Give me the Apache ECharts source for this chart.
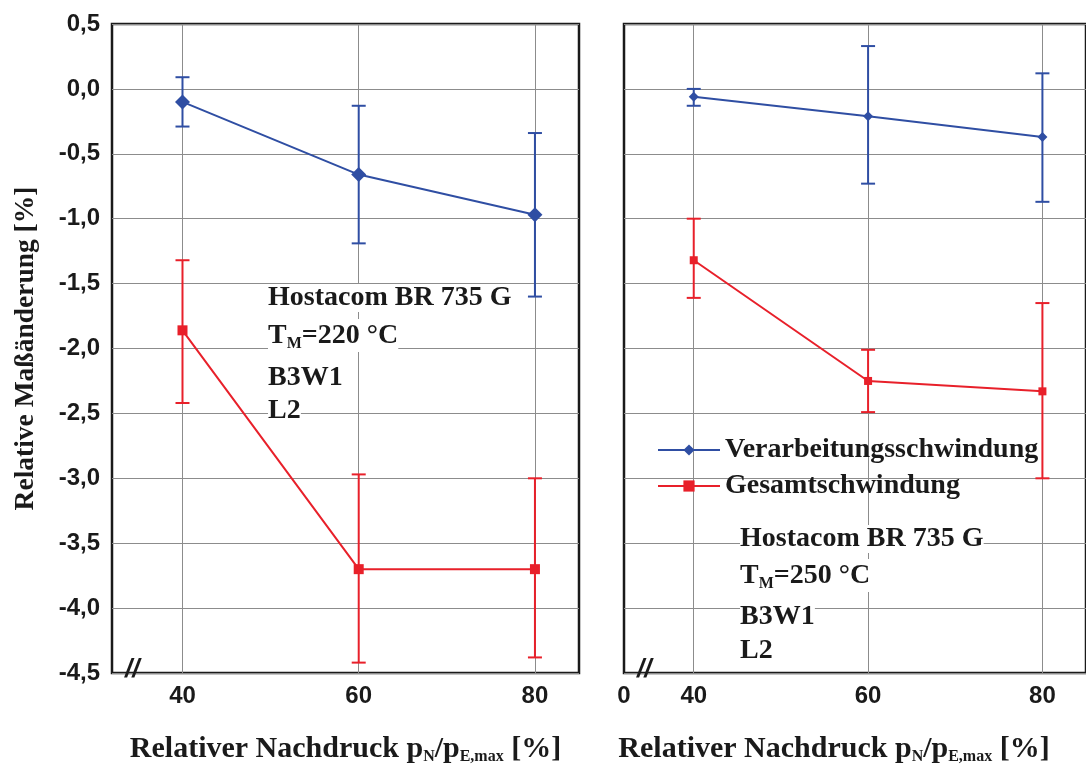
<!DOCTYPE html>
<html>
<head>
<meta charset="utf-8">
<script src="https://cdn.jsdelivr.net/npm/echarts@6/dist/echarts.min.js"></script>
<style>
  html, body { margin: 0; padding: 0; background: #fff; }
  #chart { width: 1086px; height: 771px; }
</style>
</head>
<body>
<div id="chart"></div>
<script>
// Relativer Nachdruck [%]
const xValues = [40, 60, 80];
const xTickLabels = ['40', '60', '80'];

// left panel, T_M = 220 °C
const procLeft = [-0.10, -0.66, -0.97];
const procLeftHigh = [0.09, -0.13, -0.34];
const procLeftLow = [-0.29, -1.19, -1.60];
const totalLeft = [-1.86, -3.70, -3.70];
const totalLeftHigh = [-1.32, -2.97, -3.00];
const totalLeftLow = [-2.42, -4.42, -4.38];

// right panel, T_M = 250 °C
const procRight = [-0.06, -0.21, -0.37];
const procRightHigh = [0.00, 0.33, 0.12];
const procRightLow = [-0.13, -0.73, -0.87];
const totalRight = [-1.32, -2.25, -2.33];
const totalRightHigh = [-1.00, -2.01, -1.65];
const totalRightLow = [-1.61, -2.49, -3.00];

const BLUE = '#2f4ea3';
const RED = '#e8202a';
const GRID_GRAY = '#8c8c8c';
const SERIF = '"Liberation Serif", "DejaVu Serif", serif';
const SANS = '"Liberation Sans", Arial, sans-serif';

const chart = echarts.init(document.getElementById('chart'));

function pairs(ys) {
  return xValues.map((x, i) => [x, ys[i]]);
}

function errorBars(name, idx, highs, lows, color) {
  return {
    name: name,
    type: 'custom',
    xAxisIndex: idx,
    yAxisIndex: idx,
    z: 3,
    silent: true,
    data: xValues.map((x, i) => [x, lows[i], highs[i]]),
    renderItem: function (params, api) {
      const lo = api.coord([api.value(0), api.value(1)]);
      const hi = api.coord([api.value(0), api.value(2)]);
      const w = 7;
      const st = { stroke: color, lineWidth: 2 };
      return {
        type: 'group',
        children: [
          { type: 'line', shape: { x1: hi[0], y1: hi[1], x2: lo[0], y2: lo[1] }, style: st },
          { type: 'line', shape: { x1: hi[0] - w, y1: hi[1], x2: hi[0] + w, y2: hi[1] }, style: st },
          { type: 'line', shape: { x1: lo[0] - w, y1: lo[1], x2: lo[0] + w, y2: lo[1] }, style: st }
        ]
      };
    }
  };
}

// vertical grid lines only at 40/60/80
function vGrid(idx) {
  return {
    name: 'grid' + idx,
    type: 'line',
    xAxisIndex: idx,
    yAxisIndex: idx,
    z: 1,
    silent: true,
    data: [],
    markLine: {
      z: 1,
      silent: true,
      symbol: 'none',
      animation: false,
      label: { show: false },
      emphasis: { disabled: true },
      lineStyle: { color: GRID_GRAY, width: 1, type: 'solid' },
      data: xValues.map(v => ({ xAxis: v }))
    }
  };
}

function lineSeries(name, idx, ys, color, symbol, size) {
  return {
    name: name,
    type: 'line',
    xAxisIndex: idx,
    yAxisIndex: idx,
    z: 4,
    data: pairs(ys),
    symbol: symbol,
    symbolSize: size,
    lineStyle: { color: color, width: 2 },
    itemStyle: { color: color },
    emphasis: { disabled: true }
  };
}

function xAxis(idx, showZero, shift) {
  return {
    type: 'value',
    gridIndex: idx,
    min: 32,
    max: 85,
    interval: 4,
    axisLine: { show: false },
    axisTick: { show: false },
    splitLine: { show: false },
    axisLabel: {
      showMinLabel: true,
      showMaxLabel: false,
      margin: 11,
      color: '#1a1a1a',
      fontFamily: SANS,
      fontWeight: 'bold',
      fontSize: 24,
      formatter: function (v) {
        const i = xValues.indexOf(v);
        if (i >= 0) return xTickLabels[i];
        if (showZero && v === 32) return '0';
        return '';
      }
    },
    name: '{n|Relativer Nachdruck p}{s|N}{n|/p}{s|E,max}{n| [%]}',
    nameLocation: 'middle',
    nameGap: 60,
    nameTextStyle: {
      padding: [0, shift, 0, 0],
      rich: {
        n: { fontFamily: SERIF, fontWeight: 'bold', fontSize: 30, color: '#1a1a1a' },
        s: { fontFamily: SERIF, fontWeight: 'bold', fontSize: 16, color: '#1a1a1a', padding: [16, 0, 0, 0] }
      }
    }
  };
}

function yAxis(idx, showLabels) {
  return {
    type: 'value',
    gridIndex: idx,
    min: -4.5,
    max: 0.5,
    interval: 0.5,
    axisLine: { show: false },
    axisTick: { show: false },
    splitLine: { show: true, lineStyle: { color: GRID_GRAY, width: 1 } },
    axisLabel: {
      show: showLabels,
      margin: 12,
      color: '#1a1a1a',
      fontFamily: SANS,
      fontWeight: 'bold',
      fontSize: 24,
      formatter: v => v.toFixed(1).replace('.', ',').replace('-0,0', '0,0')
    },
    name: showLabels ? 'Relative Maßänderung [%]' : '',
    nameLocation: 'middle',
    nameGap: 72,
    nameTextStyle: { fontFamily: SERIF, fontWeight: 'bold', fontSize: 27.5, color: '#1a1a1a' }
  };
}

function annotation(x, ys, temp) {
  const font = 'bold 28px ' + SERIF;
  const rich = {
    n: { font: font, fill: '#1a1a1a', backgroundColor: '#fff' },
    s: { font: 'bold 16px ' + SERIF, fill: '#1a1a1a', padding: [17, 0, 0, 0], backgroundColor: '#fff' }
  };
  const lines = ['{n|Hostacom BR 735 G}', '{n|T}{s|M}{n|=' + temp + ' °C}', '{n|B3W1}', '{n|L2}'];
  return lines.map((t, i) => ({
    type: 'text',
    left: x,
    top: ys[i],
    z: 10,
    style: { text: t, rich: rich, font: font, fill: '#1a1a1a', backgroundColor: '#fff' }
  }));
}

function axisBreak(x) {
  return {
    type: 'text',
    left: x,
    top: 657,
    z: 10,
    style: { text: '//', font: 'italic bold 26px ' + SANS, fill: '#1a1a1a' }
  };
}

const option = {
  backgroundColor: '#fff',
  animation: false,
  grid: [
    { left: 112, top: 24, width: 467, height: 649, show: true, borderColor: '#1a1a1a', borderWidth: 2.5, backgroundColor: 'transparent' },
    { left: 624, top: 24, width: 467, height: 649, show: true, borderColor: '#1a1a1a', borderWidth: 2.5, backgroundColor: 'transparent' }
  ],
  xAxis: [xAxis(0, false, 0), xAxis(1, true, 42)],
  yAxis: [yAxis(0, true), yAxis(1, false)],
  legend: {
    data: ['Verarbeitungsschwindung', 'Gesamtschwindung'],
    orient: 'vertical',
    left: 652,
    top: 431,
    itemWidth: 62,
    itemHeight: 14,
    itemGap: 8,
    selectedMode: false,
    textStyle: { fontFamily: SERIF, fontWeight: 'bold', fontSize: 28, color: '#1a1a1a' }
  },
  series: [
    vGrid(0),
    vGrid(1),
    errorBars('errProcLeft', 0, procLeftHigh, procLeftLow, BLUE),
    errorBars('errTotalLeft', 0, totalLeftHigh, totalLeftLow, RED),
    errorBars('errProcRight', 1, procRightHigh, procRightLow, BLUE),
    errorBars('errTotalRight', 1, totalRightHigh, totalRightLow, RED),
    lineSeries('Verarbeitungsschwindung', 0, procLeft, BLUE, 'diamond', 15),
    lineSeries('Gesamtschwindung', 0, totalLeft, RED, 'rect', 10),
    lineSeries('Verarbeitungsschwindung', 1, procRight, BLUE, 'diamond', 10),
    lineSeries('Gesamtschwindung', 1, totalRight, RED, 'rect', 8)
  ],
  graphic: [
    ...annotation(268, [284, 319, 364, 397], '220'),
    ...annotation(740, [525, 559, 603, 637], '250'),
    axisBreak(125),
    axisBreak(637)
  ]
};

chart.setOption(option);
</script>
</body>
</html>
